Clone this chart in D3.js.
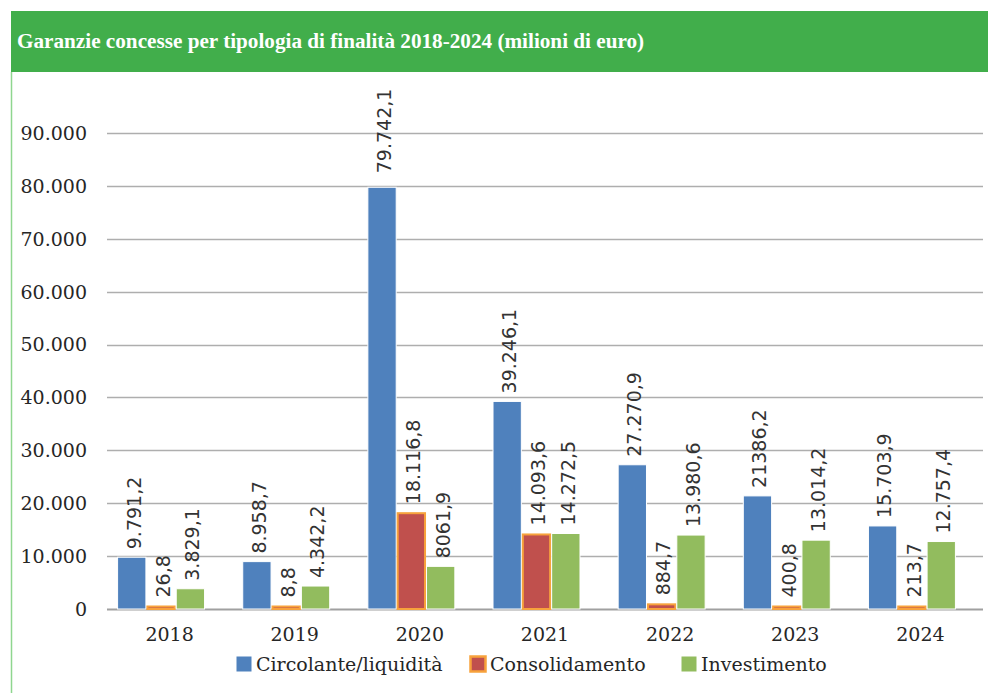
<!DOCTYPE html>
<html>
<head>
<meta charset="utf-8">
<script src="https://cdn.jsdelivr.net/npm/d3@7"></script>
<style>
  html, body { margin: 0; padding: 0; background: #ffffff; }
  svg { display: block; }
</style>
</head>
<body>
<svg id="chart" width="988" height="693"></svg>
<script>
// ---- Data ----
const title = "Garanzie concesse per tipologia di finalità 2018-2024 (milioni di euro)";
const years = ["2018", "2019", "2020", "2021", "2022", "2023", "2024"];
const seriesNames = ["Circolante/liquidità", "Consolidamento", "Investimento"];
const circolante = [9791.2, 8958.7, 79742.1, 39246.1, 27270.9, 21386.2, 15703.9];
const consolidamento = [26.8, 8.8, 18116.8, 14093.6, 884.7, 400.8, 213.7];
const investimento = [3829.1, 4342.2, 8061.9, 14272.5, 13980.6, 13014.2, 12757.4];
const circolanteLabels = ["9.791,2", "8.958,7", "79.742,1", "39.246,1", "27.270,9", "21386,2", "15.703,9"];
const consolidamentoLabels = ["26,8", "8,8", "18.116,8", "14.093,6", "884,7", "400,8", "213,7"];
const investimentoLabels = ["3.829,1", "4.342,2", "8061,9", "14.272,5", "13.980,6", "13.014,2", "12.757,4"];
const yTickValues = [0, 10000, 20000, 30000, 40000, 50000, 60000, 70000, 80000, 90000];
const yTickLabels = ["0", "10.000", "20.000", "30.000", "40.000", "50.000", "60.000", "70.000", "80.000", "90.000"];

// ---- Styles ----
const fills = ["#4F81BD", "#C0504D", "#92BC5E"];
const strokes = ["#ffffff", "#F7A23C", "#ffffff"];
const strokeW = [1, 2, 1];
const serif = "'DejaVu Serif', serif";
const sans = "'DejaVu Sans', sans-serif";

const svg = d3.select("#chart");

// Title bar
svg.append("rect").attr("x", 11).attr("y", 11).attr("width", 977).attr("height", 61).attr("fill", "#41AE4B");
const t = svg.append("text")
  .attr("x", 17).attr("y", 48)
  .attr("fill", "#ffffff")
  .attr("font-family", "'Liberation Serif', serif")
  .attr("font-weight", "bold")
  .attr("font-size", 24)
  .text(title);
// fit title to reference width
let fs = 24;
while (t.node().getComputedTextLength() > 629 && fs > 12) { fs -= 0.1; t.attr("font-size", fs); }

// left border
svg.append("line").attr("x1", 11.5).attr("x2", 11.5).attr("y1", 72).attr("y2", 693)
  .attr("stroke", "#8FD68F").attr("stroke-width", 1.5);

// ---- Scales ----
const y = d3.scaleLinear().domain([0, 90000]).range([609, 133]);
const xLabel = d3.scaleBand().domain(years).range([107, 983]).padding(0);
const xGroup = d3.scaleBand().domain(years).range([98.5, 974.5]).paddingInner(0.297).paddingOuter(0.1485);
const xInner = d3.scaleBand().domain(d3.range(3)).range([0, xGroup.bandwidth()]).padding(0);

// gridlines
svg.append("g").selectAll("line").data(yTickValues).join("line")
  .attr("x1", 107).attr("x2", 983)
  .attr("y1", d => Math.round(y(d)) + 0.5).attr("y2", d => Math.round(y(d)) + 0.5)
  .attr("stroke", d => d === 0 ? "#A0A0A0" : "#AEAEAE")
  .attr("stroke-width", d => d === 0 ? 2 : 1.3);

// y tick labels
svg.append("g").selectAll("text").data(yTickValues).join("text")
  .attr("x", 87).attr("y", d => y(d))
  .attr("dy", "0.36em")
  .attr("text-anchor", "end")
  .attr("font-family", serif).attr("font-size", 19).attr("fill", "#262626")
  .text((d, i) => yTickLabels[i]);

// x labels
svg.append("g").selectAll("text").data(years).join("text")
  .attr("x", d => xLabel(d) + xLabel.bandwidth() / 2).attr("y", 641)
  .attr("text-anchor", "middle")
  .attr("font-family", serif).attr("font-size", 19).attr("fill", "#262626")
  .text(d => d);

// bars
const allValues = [circolante, consolidamento, investimento];
const allLabels = [circolanteLabels, consolidamentoLabels, investimentoLabels];
const barsData = [];
years.forEach((yr, i) => {
  for (let s = 0; s < 3; s++) barsData.push({ yr, s, v: allValues[s][i], label: allLabels[s][i] });
});

// minimum visible height (in px) so the bordered tiny bars stay visible like in the reference
const minH = d => d.s === 1 ? 2.5 : 0;
const barTop = d => Math.min(y(d.v), y(0) - minH(d));

svg.append("g").selectAll("rect").data(barsData).join("rect")
  .attr("x", d => xGroup(d.yr) + xInner(d.s) + (d.s === 1 ? 1 : 0.5))
  .attr("y", d => barTop(d))
  .attr("width", d => xInner.bandwidth() - (d.s === 1 ? 2 : 1))
  .attr("height", d => y(0) - barTop(d))
  .attr("fill", d => fills[d.s])
  .attr("stroke", d => strokes[d.s])
  .attr("stroke-width", d => strokeW[d.s]);

// data labels
svg.append("g").selectAll("text").data(barsData).join("text")
  .attr("transform", d => {
    const cx = xGroup(d.yr) + xInner(d.s) + xInner.bandwidth() / 2 + 2;
    const cy = barTop(d) - 8 - (d.s === 1 ? 1 : 0) - (d.v > 70000 ? 6 : 0);
    return `translate(${cx},${cy}) rotate(-90)`;
  })
  .attr("dy", "0.36em")
  .attr("text-anchor", "start")
  .attr("font-family", sans).attr("font-size", 19).attr("fill", "#333333")
  .text(d => d.label);

// legend
const legendX = [236, 470, 681];
const lg = svg.append("g").selectAll("g").data(seriesNames).join("g")
  .attr("transform", (d, i) => `translate(${legendX[i]},656)`);
lg.append("rect").attr("x", 0.5).attr("y", 0.5).attr("width", 15).attr("height", 15)
  .attr("fill", (d, i) => fills[i])
  .attr("stroke", (d, i) => i === 1 ? strokes[1] : "none")
  .attr("stroke-width", 2.5);
lg.append("text").attr("x", 20).attr("y", 15)
  .attr("font-family", serif).attr("font-size", 19).attr("fill", "#262626")
  .text(d => d);
</script>
</body>
</html>
